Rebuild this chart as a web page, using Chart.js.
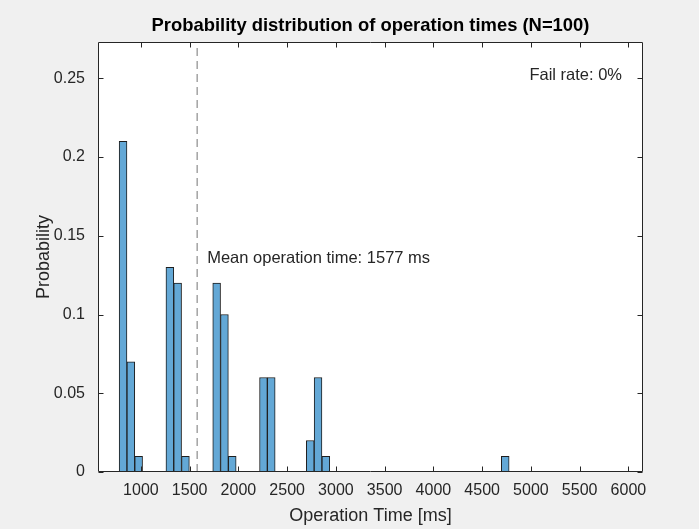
<!DOCTYPE html>
<html>
<head>
<meta charset="utf-8">
<script src="https://cdn.jsdelivr.net/npm/chart.js@4/dist/chart.umd.min.js"></script>
<style>
  html, body { margin: 0; padding: 0; background: #f0f0f0; }
  #wrap { width: 699px; height: 529px; position: relative; }
</style>
</head>
<body>
<div id="wrap"><canvas id="c" width="699" height="529"></canvas></div>
<script>
// ---- data ----
const binLeftEdges = [777, 857, 937, 1257, 1337, 1417, 1737, 1817, 1897, 2217, 2297, 2697, 2777, 2857, 4697];
const binWidth = 80;
const probabilities = [0.21, 0.07, 0.01, 0.13, 0.12, 0.01, 0.12, 0.10, 0.01, 0.06, 0.06, 0.02, 0.06, 0.01, 0.01];
const meanTime = 1577;
const xTickValues = [1000, 1500, 2000, 2500, 3000, 3500, 4000, 4500, 5000, 5500, 6000];
const yTickValues = [0, 0.05, 0.1, 0.15, 0.2, 0.25];
const xLimits = [560, 6150];
const yLimits = [0, 0.273];
const titleText = 'Probability distribution of operation times (N=100)';
const xLabel = 'Operation Time [ms]';
const yLabel = 'Probability';
const meanText = 'Mean operation time: ' + meanTime + ' ms';
const failText = 'Fail rate: 0%';

const barPoints = binLeftEdges.map((e, i) => ({ x: e + binWidth / 2, y: probabilities[i] }));
const FONT = "'Liberation Sans', Arial, Helvetica, sans-serif";
const AXC = '#262626';

const axesPlugin = {
  id: 'matlabAxes',
  beforeDraw(chart) {
    const { ctx, chartArea: a } = chart;
    ctx.save();
    ctx.fillStyle = '#ffffff';
    ctx.fillRect(a.left, a.top, a.right - a.left, a.bottom - a.top);
    ctx.restore();
  },
  afterDraw(chart) {
    const { ctx, chartArea: a, scales } = chart;
    const xs = scales.x, ys = scales.y;
    ctx.save();
    // annotation texts
    ctx.fillStyle = AXC;
    ctx.font = '16.5px ' + FONT;
    ctx.textBaseline = 'middle';
    ctx.textAlign = 'left';
    ctx.fillText(meanText, xs.getPixelForValue(1680), ys.getPixelForValue(0.1358));
    ctx.textAlign = 'right';
    ctx.fillText(failText, xs.getPixelForValue(5935), ys.getPixelForValue(0.2515));
    // box
    ctx.strokeStyle = AXC;
    ctx.lineWidth = 1;
    const L = Math.round(a.left) + 0.5, R = Math.round(a.right) - 0.5;
    const T = Math.round(a.top) + 0.5, B = Math.round(a.bottom) - 0.5;
    ctx.beginPath();
    ctx.rect(L, T, R - L, B - T);
    ctx.stroke();
    // inward ticks
    const tl = 5;
    ctx.beginPath();
    xs.ticks.forEach(t => {
      const px = Math.round(xs.getPixelForValue(t.value)) + 0.5;
      ctx.moveTo(px, B); ctx.lineTo(px, B - tl);
      ctx.moveTo(px, T); ctx.lineTo(px, T + tl);
    });
    ys.ticks.forEach(t => {
      const py = Math.round(ys.getPixelForValue(t.value)) + 0.5;
      ctx.moveTo(L, py); ctx.lineTo(L + tl, py);
      ctx.moveTo(R, py); ctx.lineTo(R - tl, py);
    });
    ctx.stroke();
    ctx.restore();
  }
};

new Chart(document.getElementById('c'), {
  type: 'bar',
  data: {
    datasets: [
      {
        type: 'bar',
        data: barPoints,
        backgroundColor: 'rgb(99,168,214)',
        borderColor: '#1e1e1e',
        borderWidth: 1,
        barPercentage: 1,
        categoryPercentage: 1,
        order: 2
      },
      {
        type: 'line',
        data: [{ x: meanTime, y: yLimits[0] }, { x: meanTime, y: yLimits[1] }],
        borderColor: 'rgb(140,140,140)',
        borderWidth: 1.2,
        borderDash: [8, 5],
        pointRadius: 0,
        fill: false,
        order: 1
      }
    ]
  },
  options: {
    responsive: false,
    animation: false,
    devicePixelRatio: 1,
    layout: { padding: { left: 0, right: 56, top: 0, bottom: 0 } },
    plugins: {
      legend: { display: false },
      tooltip: { enabled: false },
      title: {
        display: true,
        fullSize: false,
        text: titleText,
        color: '#000000',
        font: { family: FONT, size: 18.4, weight: 'bold', lineHeight: 1.2 },
        padding: { top: 15, bottom: 5 }
      }
    },
    scales: {
      x: {
        type: 'linear',
        offset: false,
        min: xLimits[0],
        max: xLimits[1],
        grid: { display: false, drawTicks: false, offset: false },
        border: { display: false },
        afterBuildTicks: s => { s.ticks = xTickValues.map(v => ({ value: v })); },
        afterFit: s => { s.height = 57; },
        ticks: {
          color: AXC,
          font: { family: FONT, size: 16 },
          padding: 9,
          maxRotation: 0,
          autoSkip: false,
          callback: v => String(v)
        },
        title: {
          display: true,
          text: xLabel,
          color: AXC,
          font: { family: FONT, size: 18 },
          padding: { top: 0, bottom: 2 }
        }
      },
      y: {
        type: 'linear',
        min: yLimits[0],
        max: yLimits[1],
        grid: { display: false, drawTicks: false },
        border: { display: false },
        afterBuildTicks: s => { s.ticks = yTickValues.map(v => ({ value: v })); },
        afterFit: s => { s.width = 98; },
        ticks: {
          color: AXC,
          font: { family: FONT, size: 16 },
          padding: 13,
          autoSkip: false,
          callback: v => String(v)
        },
        title: {
          display: true,
          text: yLabel,
          color: AXC,
          font: { family: FONT, size: 18 },
          padding: { top: 33, bottom: 0 }
        }
      }
    }
  },
  plugins: [axesPlugin]
});
</script>
</body>
</html>
